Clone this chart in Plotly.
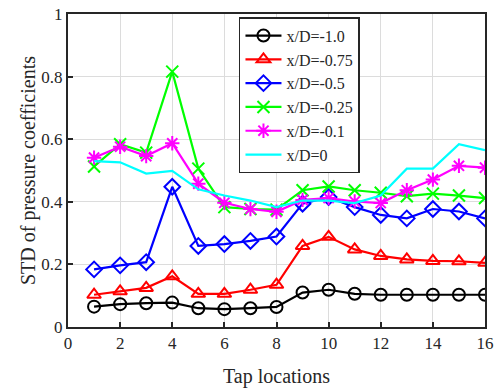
import plotly.graph_objects as go

taps = list(range(1, 17))
s_m100 = [0.065, 0.073, 0.076, 0.078, 0.060, 0.057, 0.060, 0.064, 0.110, 0.119, 0.106, 0.103, 0.103, 0.103, 0.103, 0.103]
s_m075 = [0.103, 0.114, 0.125, 0.162, 0.106, 0.106, 0.119, 0.135, 0.259, 0.288, 0.248, 0.227, 0.216, 0.211, 0.210, 0.205]
s_m050 = [0.184, 0.197, 0.207, 0.448, 0.259, 0.265, 0.275, 0.289, 0.394, 0.415, 0.383, 0.358, 0.347, 0.377, 0.369, 0.347]
s_m025 = [0.513, 0.584, 0.557, 0.816, 0.506, 0.383, 0.377, 0.375, 0.437, 0.449, 0.437, 0.429, 0.418, 0.426, 0.420, 0.412]
s_m010 = [0.541, 0.576, 0.546, 0.587, 0.458, 0.397, 0.377, 0.368, 0.406, 0.412, 0.401, 0.396, 0.437, 0.471, 0.515, 0.509]
s_0 = [0.530, 0.526, 0.490, 0.499, 0.440, 0.420, 0.404, 0.383, 0.404, 0.404, 0.396, 0.420, 0.506, 0.506, 0.584, 0.565]

names = ["x/D=-1.0", "x/D=-0.75", "x/D=-0.5", "x/D=-0.25", "x/D=-0.1", "x/D=0"]
series = [s_m100, s_m075, s_m050, s_m025, s_m010, s_0]
colors = ["#000000", "#ff0000", "#0000ff", "#00ff00", "#ff00ff", "#00ffff"]
symbols = ["circle-open", "triangle-up-open", "diamond-open", "x-thin-open", "asterisk-open", None]

fig = go.Figure()
for name, ys, c, sym in zip(names, series, colors, symbols):
    if sym is None:
        fig.add_trace(go.Scatter(x=taps, y=ys, name=name, mode="lines",
                                 line=dict(color=c, width=2.2)))
    else:
        fig.add_trace(go.Scatter(x=taps, y=ys, name=name, mode="lines+markers",
                                 line=dict(color=c, width=2.2),
                                 marker=dict(symbol=sym, size=12, color=c,
                                             line=dict(color=c, width=2))))

font = "Liberation Serif, Times New Roman, serif"
fig.update_layout(
    width=494, height=390,
    margin=dict(l=68, r=9, t=14, b=63),
    paper_bgcolor="white", plot_bgcolor="white",
    font=dict(family=font, size=17, color="#262626"),
    legend=dict(x=0.41, y=0.99, xanchor="left", yanchor="top",
                bgcolor="white", bordercolor="#262626", borderwidth=1.5,
                font=dict(family=font, size=16, color="#262626"),
                tracegroupgap=0, itemwidth=36),
    showlegend=True,
)
fig.update_xaxes(range=[0, 16], dtick=2, tick0=0, showgrid=True, gridcolor="#dcdcdc", gridwidth=1.2,
                 showline=True, linecolor="#262626", linewidth=2, mirror=True,
                 ticks="inside", ticklen=5, tickwidth=1.5, tickcolor="#262626",
                 zeroline=False, automargin=False,
                 title=dict(text="Tap locations", font=dict(size=20, family=font), standoff=17))
fig.update_yaxes(range=[0, 1], dtick=0.2, tick0=0, showgrid=True, gridcolor="#dcdcdc", gridwidth=1.2,
                 showline=True, linecolor="#262626", linewidth=2, mirror=True,
                 ticks="inside", ticklen=5, tickwidth=1.5, tickcolor="#262626",
                 zeroline=False, automargin=False,
                 title=dict(text="STD of pressure coefficients", font=dict(size=20, family=font), standoff=0))

fig.write_html("out.html")
